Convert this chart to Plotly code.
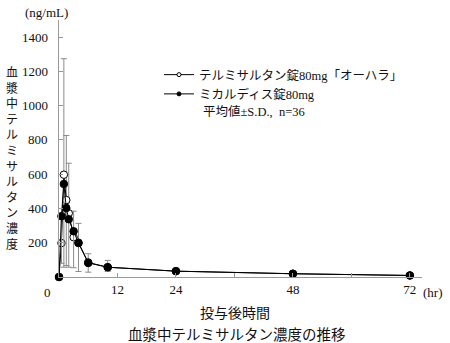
import plotly.graph_objects as go

# ---- data ----
time_h = [0, 0.5, 1, 1.5, 2, 3, 4, 6, 10, 24, 48, 72]
ohara_mean = [0, 198, 597, 449, 372, 232, 200, 85, 57, 34, 19, 9]
ohara_sd_up = [0, 150, 677, 377, 292, 152, 113, 51, 40, 10, 8, 5]
micardis_mean = [0, 355, 543, 402, 337, 267, 198, 82, 57, 34, 19, 9]
micardis_sd_down = [0, 275, 486, 335, 280, 213, 166, 54, 25, 10, 8, 5]

x_tickvals = [12, 24, 36, 48, 60, 72]
x_ticktext = ["12", "24", "", "48", "", "72"]
y_tickvals = [200, 400, 600, 800, 1000, 1200, 1400]
y_ticktext = ["200", "400", "600", "800", "1000", "1200", "1400"]

name_ohara = "テルミサルタン錠80mg「オーハラ」"
name_micardis = "ミカルディス錠80mg"
note_text = "平均値±S.D.,  n=36"
y_title = "血漿中テルミサルタン濃度"
x_title = "投与後時間"
caption = "血漿中テルミサルタン濃度の推移"

# ---- layout geometry ----
W_FIG, H_FIG = 450, 343
ML, MR, MT, MB = 59, 28, 20, 66
PW = W_FIG - ML - MR
PH = H_FIG - MT - MB

def px(x, y):
    return (x - ML) / PW, (H_FIG - MB - y) / PH

SERIF = "Liberation Serif, Noto Sans CJK JP"
GOTHIC = "Noto Sans CJK JP"
ERR_COLOR = "#8a8a8a"

fig = go.Figure()
fig.add_trace(go.Scatter(
    x=time_h, y=ohara_mean, name=name_ohara, mode="lines+markers", showlegend=False,
    line=dict(color="black", width=1),
    marker=dict(symbol="circle", size=7.5, color="white", line=dict(color="black", width=1)),
    error_y=dict(type="data", symmetric=False, array=ohara_sd_up,
                 arrayminus=[0] * len(time_h), color=ERR_COLOR, thickness=1, width=3),
    cliponaxis=False,
))
fig.add_trace(go.Scatter(
    x=time_h, y=micardis_mean, name=name_micardis, mode="lines+markers", showlegend=False,
    line=dict(color="black", width=1),
    marker=dict(symbol="circle", size=7.5, color="black", line=dict(color="black", width=1)),
    error_y=dict(type="data", symmetric=False, array=[0] * len(time_h),
                 arrayminus=micardis_sd_down, color=ERR_COLOR, thickness=1, width=3),
    cliponaxis=False,
))
# legend-only entries with the smaller legend symbols
fig.add_trace(go.Scatter(
    x=[None], y=[None], name=name_ohara, mode="lines+markers",
    line=dict(color="black", width=1),
    marker=dict(symbol="circle", size=4, color="white", line=dict(color="black", width=1)),
))
fig.add_trace(go.Scatter(
    x=[None], y=[None], name=name_micardis, mode="lines+markers",
    line=dict(color="black", width=1),
    marker=dict(symbol="circle", size=4, color="black", line=dict(color="black", width=1)),
))

annotations = []
# y tick labels placed on the y scale, right-aligned a little left of the axis line
lab_x, _ = px(50, 0)
for v, t in zip(y_tickvals, y_ticktext):
    annotations.append(dict(x=lab_x, y=v, xref="paper", yref="y", text=t,
                            showarrow=False, xanchor="right", yanchor="middle",
                            font=dict(family=SERIF, size=13, color="#111")))
# vertical y title (upright characters, one per line)
ax, ay = px(12, 157)
annotations.append(dict(x=ax, y=ay, xref="paper", yref="paper", text="<br>".join(y_title),
                        showarrow=False, xanchor="center", yanchor="middle",
                        font=dict(family=GOTHIC, size=12, color="#111")))
for txt, (xx, yy), fam, size in [
    ("(ng/mL)", (46, 12), SERIF, 13),
    ("0", (47, 292), SERIF, 13),
    ("(hr)", (433, 292), SERIF, 13),
    (x_title, (235, 312), GOTHIC, 14),
    (caption, (237, 333), GOTHIC, 14.5),
]:
    ax, ay = px(xx, yy)
    annotations.append(dict(x=ax, y=ay, xref="paper", yref="paper", text=txt,
                            showarrow=False, xanchor="center", yanchor="middle",
                            font=dict(family=fam, size=size, color="#111")))
ax, ay = px(201, 112)
annotations.append(dict(x=ax, y=ay, xref="paper", yref="paper", text=note_text,
                        showarrow=False, xanchor="left", yanchor="middle",
                        font=dict(family=SERIF, size=12.5, color="#111")))

lx, ly = px(159, 60)
fig.update_layout(
    width=W_FIG, height=H_FIG,
    margin=dict(l=ML, r=MR, t=MT, b=MB, pad=0),
    paper_bgcolor="white", plot_bgcolor="white",
    showlegend=True,
    legend=dict(x=lx, y=ly, xanchor="left", yanchor="top", bgcolor="rgba(0,0,0,0)",
                font=dict(family=SERIF, size=12.5, color="#111"),
                tracegroupgap=0, itemsizing="trace"),
    xaxis=dict(range=[0, 74.5], showgrid=False, zeroline=False, showline=True,
               linecolor="#999", linewidth=1, ticks="inside", ticklen=4,
               tickcolor="#999", tickvals=x_tickvals, ticktext=x_ticktext,
               tickfont=dict(family=SERIF, size=13, color="#111")),
    yaxis=dict(range=[0, 1500], showgrid=False, zeroline=False, showline=True,
               linecolor="#999", linewidth=1, ticks="inside", ticklen=4,
               tickcolor="#999", tickvals=y_tickvals, showticklabels=False),
    annotations=annotations,
)

fig.write_html("out.html")
